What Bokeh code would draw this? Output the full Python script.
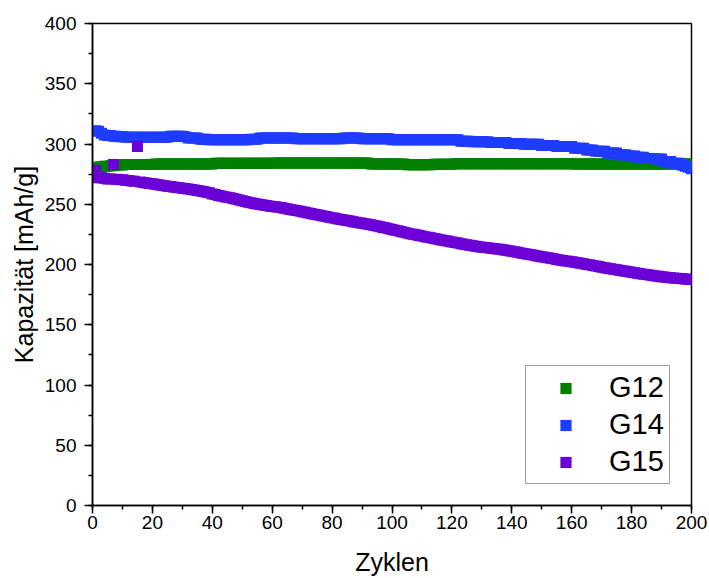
from bokeh.plotting import figure
from bokeh.models import SingleIntervalTicker, Range1d
from bokeh.embed import file_html
from bokeh.resources import INLINE

cycles = list(range(1, 201))

g12 = [
    279.5, 281.0, 281.0, 281.5, 281.5, 282.0, 282.0, 282.5, 282.5, 282.5,
    283.0, 283.0, 283.0, 283.0, 283.0, 283.0, 283.0, 283.0, 283.0, 283.0,
    283.5, 283.5, 283.5, 283.5, 283.5, 283.5, 283.5, 283.5, 283.5, 283.5,
    283.5, 283.5, 283.5, 283.5, 283.5, 283.5, 283.5, 283.5, 283.5, 283.5,
    284.0, 284.0, 284.0, 284.0, 284.0, 284.0, 284.0, 284.0, 284.0, 284.0,
    284.0, 284.0, 284.0, 284.0, 284.0, 284.0, 284.0, 284.0, 284.0, 284.0,
    284.2, 284.2, 284.2, 284.2, 284.2, 284.2, 284.2, 284.2, 284.2, 284.2,
    284.2, 284.2, 284.2, 284.2, 284.2, 284.2, 284.2, 284.2, 284.2, 284.2,
    284.2, 284.2, 284.2, 284.2, 284.2, 284.2, 284.2, 284.2, 284.2, 284.2,
    284.2, 284.2, 283.5, 283.5, 283.5, 283.5, 283.5, 283.5, 283.5, 283.5,
    283.5, 283.5, 283.5, 283.5, 282.8, 282.8, 282.8, 282.8, 282.8, 282.8,
    282.8, 282.8, 282.8, 283.2, 283.2, 283.2, 283.2, 283.2, 283.2, 283.2,
    283.6, 283.6, 283.6, 283.6, 283.6, 283.6, 283.6, 283.6, 283.6, 283.6,
    283.6, 283.6, 283.6, 283.6, 283.6, 283.6, 283.6, 283.6, 283.6, 283.6,
    283.6, 283.6, 283.6, 283.6, 283.6, 283.6, 283.6, 283.6, 283.6, 283.6,
    283.6, 283.6, 283.6, 283.6, 283.6, 283.6, 283.6, 283.6, 283.6, 283.6,
    283.5, 283.5, 283.5, 283.5, 283.5, 283.5, 283.5, 283.5, 283.5, 283.5,
    283.5, 283.5, 283.5, 283.5, 283.5, 283.5, 283.5, 283.5, 283.5, 283.5,
    283.4, 283.4, 283.4, 283.4, 283.4, 283.4, 283.4, 283.4, 283.4, 283.4,
    283.4, 283.4, 283.4, 283.4, 283.4, 283.4, 283.4, 283.4, 283.4, 283.4,
]

g14 = [
    311.0, 310.5, 309.0, 307.5, 307.0, 307.0, 306.5, 306.5, 306.0, 306.0,
    305.8, 305.7, 305.7, 305.7, 305.7, 305.7, 305.7, 305.7, 305.7, 305.7,
    305.7, 305.7, 305.7, 305.7, 305.7, 306.5, 306.5, 306.5, 306.5, 306.5,
    306.0, 305.0, 305.0, 305.0, 305.0, 304.0, 304.0, 304.0, 303.5, 303.5,
    303.5, 303.5, 303.5, 303.5, 303.5, 303.5, 303.5, 303.5, 303.5, 303.5,
    303.5, 303.5, 304.0, 304.0, 304.0, 305.0, 305.0, 305.0, 305.0, 305.0,
    305.0, 305.0, 305.0, 305.0, 305.0, 305.0, 305.0, 304.3, 304.3, 304.3,
    304.3, 304.3, 304.3, 304.3, 304.3, 304.3, 304.3, 304.3, 304.3, 304.3,
    304.3, 304.3, 304.3, 305.0, 305.0, 305.0, 305.0, 305.0, 305.0, 304.3,
    304.3, 304.3, 304.3, 304.3, 304.3, 304.3, 304.3, 304.3, 304.3, 303.5,
    303.5, 303.5, 303.5, 303.5, 303.5, 303.5, 303.5, 303.5, 303.5, 303.5,
    303.5, 303.5, 303.5, 303.5, 303.5, 303.5, 303.5, 303.5, 303.5, 303.5,
    303.5, 303.5, 302.3, 302.3, 302.3, 302.3, 301.8, 301.8, 301.8, 301.8,
    301.8, 301.8, 301.3, 301.3, 301.3, 301.3, 301.3, 301.3, 300.5, 300.5,
    300.5, 300.5, 300.5, 299.8, 299.8, 299.8, 299.8, 299.8, 299.8, 298.8,
    298.8, 298.8, 298.8, 298.8, 298.0, 298.0, 298.0, 298.0, 298.0, 298.0,
    296.5, 296.5, 296.5, 296.5, 295.0, 295.0, 295.0, 294.0, 294.0, 294.0,
    294.0, 292.5, 292.5, 292.5, 292.5, 291.0, 291.0, 291.0, 290.0, 290.0,
    290.0, 289.0, 289.0, 289.0, 288.0, 288.0, 288.0, 287.5, 287.5, 287.5,
    285.5, 285.5, 285.5, 284.0, 284.0, 284.0, 282.3, 281.5, 280.7, 279.5,
]

g15 = [
    278.0, 272.0, 272.0, 271.5, 271.0, 271.0, 283.0, 270.8, 270.5, 270.3,
    270.0, 269.7, 269.3, 269.0, 298.0, 268.5, 268.0, 267.6, 267.3, 267.0,
    266.6, 266.2, 265.8, 265.3, 265.0, 264.7, 264.4, 264.0, 263.7, 263.3,
    263.0, 262.6, 262.2, 261.8, 261.4, 261.0, 260.5, 260.0, 259.5, 258.5,
    258.0, 257.3, 256.8, 256.3, 255.8, 255.3, 254.8, 254.2, 253.6, 253.0,
    252.2, 251.7, 251.2, 250.7, 250.3, 249.8, 249.4, 249.0, 248.6, 248.2,
    247.9, 247.5, 247.2, 246.7, 246.2, 245.7, 245.2, 244.8, 244.3, 243.8,
    243.3, 242.8, 242.3, 241.8, 241.3, 240.8, 240.3, 239.8, 239.3, 238.8,
    238.3, 237.8, 237.3, 236.9, 236.5, 236.0, 235.5, 235.1, 234.6, 234.2,
    233.8, 233.3, 232.9, 232.4, 231.9, 231.3, 230.8, 230.2, 229.6, 229.1,
    228.5, 228.0, 227.4, 226.8, 226.2, 225.6, 225.1, 224.6, 224.1, 223.6,
    223.1, 222.6, 222.1, 221.6, 221.1, 220.6, 220.1, 219.7, 219.2, 218.7,
    218.2, 217.8, 217.3, 216.8, 216.4, 215.9, 215.5, 215.1, 214.7, 214.4,
    214.1, 213.8, 213.5, 213.2, 212.9, 212.6, 212.2, 211.8, 211.4, 211.0,
    210.6, 210.1, 209.6, 209.2, 208.7, 208.3, 207.8, 207.3, 206.9, 206.5,
    206.0, 205.6, 205.1, 204.7, 204.2, 203.8, 203.4, 203.0, 202.6, 202.2,
    201.8, 201.4, 201.0, 200.6, 200.1, 199.7, 199.2, 198.8, 198.3, 197.8,
    197.4, 196.9, 196.5, 196.0, 195.6, 195.2, 194.8, 194.4, 194.0, 193.6,
    193.2, 192.8, 192.4, 192.0, 191.6, 191.2, 190.8, 190.5, 190.2, 189.9,
    189.6, 189.3, 189.0, 188.8, 188.6, 188.4, 188.2, 188.0, 187.8, 187.5,
]

series_names = ["G12", "G14", "G15"]
series_colors = ["#008000", "#1E3CFF", "#6A00D6"]

FONT = "Liberation Sans"

p = figure(width=709, height=578, output_backend="svg", toolbar_location=None,
           x_range=Range1d(0, 200), y_range=Range1d(0, 400),
           min_border_left=92, min_border_right=18, min_border_top=23,
           min_border_bottom=73)

for name, col, ys in zip(series_names, series_colors, [g12, g14, g15]):
    p.scatter(cycles, ys, marker="square", size=11, fill_color=col,
              line_color=None, legend_label=name)

p.grid.visible = False
p.outline_line_color = "black"
p.outline_line_width = 1.5
p.background_fill_color = "white"
p.border_fill_color = "white"

p.xaxis.ticker = SingleIntervalTicker(interval=20, num_minor_ticks=2)
p.yaxis.ticker = SingleIntervalTicker(interval=50, num_minor_ticks=2)
p.xaxis.axis_label = "Zyklen"
p.yaxis.axis_label = "Kapazität [mAh/g]"

for ax in (p.xaxis[0], p.yaxis[0]):
    ax.axis_line_color = "black"
    ax.axis_line_width = 1.5
    ax.major_tick_out = 8
    ax.major_tick_in = 0
    ax.minor_tick_out = 4
    ax.minor_tick_in = 0
    ax.major_tick_line_color = "black"
    ax.minor_tick_line_color = "black"
    ax.major_tick_line_width = 1.5
    ax.minor_tick_line_width = 1.5
    ax.major_label_text_font = FONT
    ax.major_label_text_font_size = "19px"
    ax.major_label_text_color = "black"
    ax.axis_label_text_font = FONT
    ax.axis_label_text_font_size = "25px"
    ax.axis_label_text_font_style = "normal"
    ax.axis_label_text_color = "black"

p.xaxis.major_label_standoff = 2
p.xaxis.axis_label_standoff = 16
p.yaxis.major_label_standoff = 8
p.yaxis.axis_label_standoff = 4

lg = p.legend[0]
lg.location = (433, 21)
lg.padding = 5
lg.margin = 0
lg.spacing = 4
lg.glyph_width = 69
lg.glyph_height = 28
lg.label_standoff = 9
lg.label_text_font = FONT
lg.label_text_font_size = "29px"
lg.label_text_color = "black"
lg.border_line_color = "#444444"
lg.border_line_width = 1
lg.background_fill_color = "white"
lg.background_fill_alpha = 1

open("out.html", "w").write(file_html(p, INLINE))
